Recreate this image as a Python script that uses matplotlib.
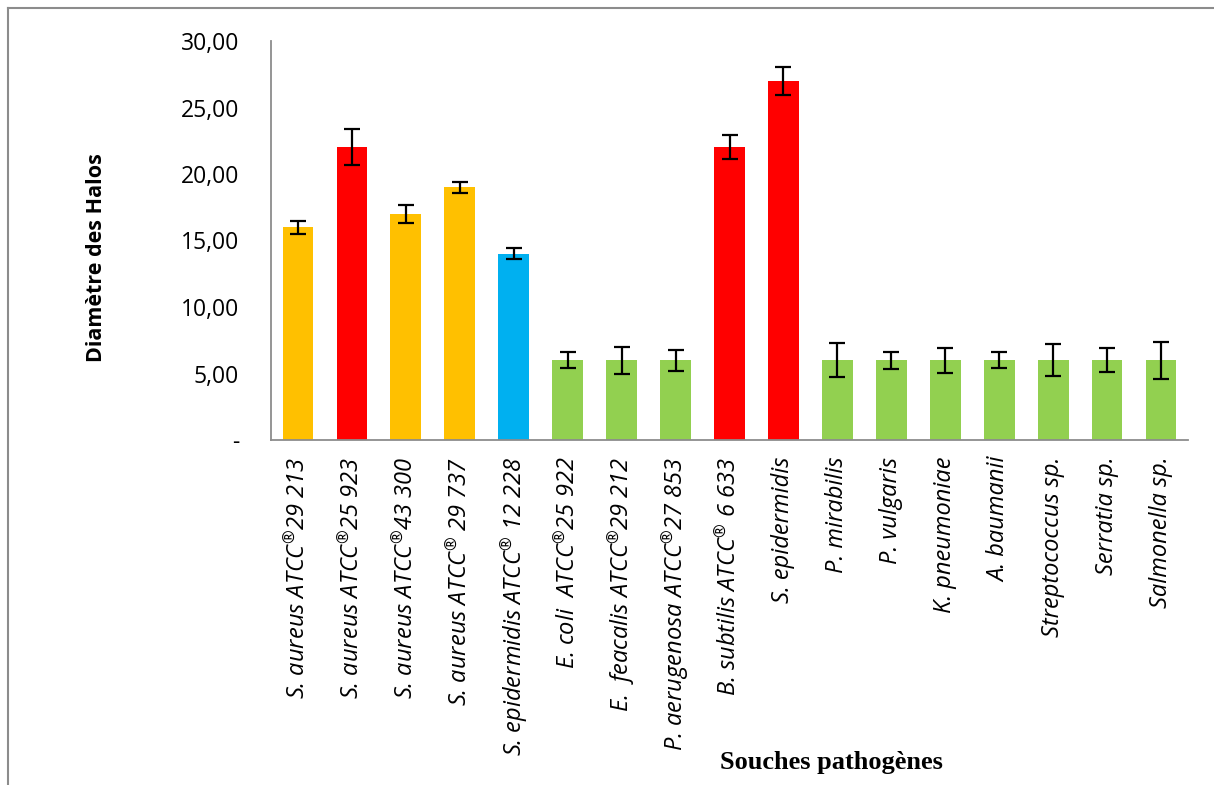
import matplotlib
matplotlib.use("Agg")
import matplotlib.pyplot as plt
from matplotlib.lines import Line2D
from matplotlib.ticker import FixedLocator

plt.rcParams["mathtext.fontset"] = "custom"
plt.rcParams["mathtext.rm"] = "Open Sans"
plt.rcParams["mathtext.it"] = "Open Sans:italic"

R = r"$^{\mathregular{\u00ae}}$".replace(r"\u00ae", "\u00ae")

categories = [
    "S. aureus ATCC" + R + "29 213",
    "S. aureus ATCC" + R + "25 923",
    "S. aureus ATCC" + R + "43 300",
    "S. aureus ATCC" + R + " 29 737",
    "S. epidermidis ATCC" + R + " 12 228",
    "E. coli  ATCC" + R + "25 922",
    "E.  feacalis ATCC" + R + "29 212",
    "P. aerugenosa ATCC" + R + "27 853",
    "B. subtilis ATCC" + R + " 6 633",
    "S. epidermidis",
    "P. mirabilis",
    "P. vulgaris",
    "K. pneumoniae",
    "A. baumanii",
    "Streptococcus sp.",
    "Serratia sp.",
    "Salmonella sp.",
]
values = [16, 22, 17, 19, 14, 6, 6, 6, 22, 27, 6, 6, 6, 6, 6, 6, 6]
errors = [0.5, 1.35, 0.65, 0.4, 0.4, 0.6, 1.0, 0.8, 0.9, 1.05,
          1.3, 0.65, 0.95, 0.6, 1.2, 0.9, 1.4]
colors = ["#FFC000", "#FF0000", "#FFC000", "#FFC000", "#00B0F0",
          "#92D050", "#92D050", "#92D050", "#FF0000", "#FF0000",
          "#92D050", "#92D050", "#92D050", "#92D050", "#92D050",
          "#92D050", "#92D050"]
yticks = [0, 5, 10, 15, 20, 25, 30]
ytick_labels = ["-", "5,00", "10,00", "15,00", "20,00", "25,00", "30,00"]

fig = plt.figure(figsize=(12.14, 7.85), dpi=100)
ax = fig.add_axes([271/1214, 1-440/785, (1188-271)/1214, (440-41)/785])

x = list(range(len(categories)))
ax.bar(x, values, width=0.57, color=colors, zorder=2)
ax.errorbar(x, values, yerr=errors, fmt="none", ecolor="black",
            elinewidth=1.6, capsize=6, capthick=1.6, zorder=3)

ax.set_xlim(-0.5, len(categories) - 0.5)
ax.set_ylim(0, 30)
ax.yaxis.set_major_locator(FixedLocator(yticks))
ax.set_yticklabels(ytick_labels, fontfamily="Open Sans", fontsize=16.5)
ax.set_xticks(x)
ax.set_xticklabels(categories, rotation=90, fontfamily="Open Sans",
                   fontstyle="italic", fontsize=17)
ax.tick_params(axis="both", length=0)
ax.tick_params(axis="y", pad=23)
ax.tick_params(axis="x", pad=12)

for s in ["top", "right"]:
    ax.spines[s].set_visible(False)
for s in ["left", "bottom"]:
    ax.spines[s].set_color("#8C8C8C")
    ax.spines[s].set_linewidth(1.3)

fig.text(97/1214, 1-258/785, "Diam\u00e8tre des Halos", rotation=90,
         ha="center", va="center", fontfamily="Open Sans",
         fontweight="bold", fontsize=15.5)
fig.text(831/1214, 1-763/785, "Souches pathog\u00e8nes", ha="center",
         va="center", fontfamily="Liberation Serif", fontweight="bold",
         fontsize=19)

# outer frame (top and left)
fig.add_artist(Line2D([7.5/1214, 1.0], [1-7.5/785, 1-7.5/785],
                      transform=fig.transFigure, color="#8C8C8C", lw=1.5))
fig.add_artist(Line2D([7.5/1214, 7.5/1214], [1-7.5/785, 0],
                      transform=fig.transFigure, color="#8C8C8C", lw=1.5))

fig.savefig("out.png", dpi=100)
